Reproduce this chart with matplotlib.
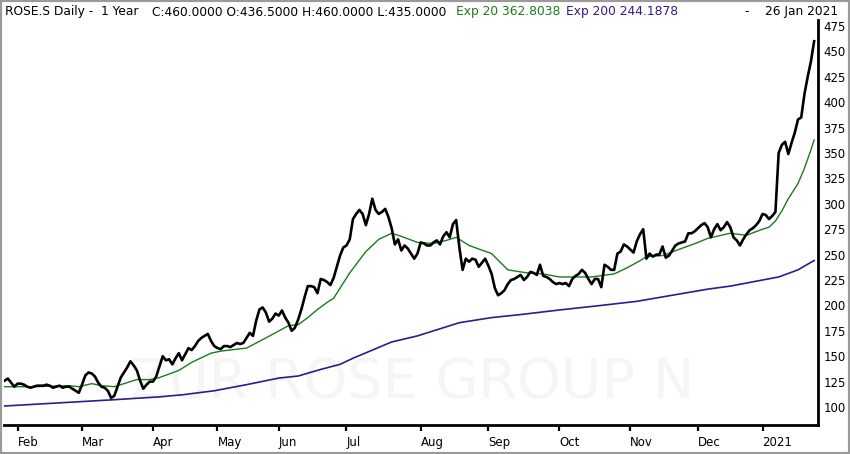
import numpy as np
import pandas as pd
import matplotlib
matplotlib.use("Agg")
import matplotlib.pyplot as plt
from matplotlib.patches import Rectangle

# trading days (SIX calendar), 28 Jan 2020 .. 26 Jan 2021
holidays = ["2020-04-10", "2020-04-13", "2020-05-01", "2020-05-21", "2020-06-01",
            "2020-12-24", "2020-12-25", "2020-12-31", "2021-01-01"]
days = pd.bdate_range("2020-01-28", "2021-01-26")
days = days[~days.isin(pd.to_datetime(holidays))]

# daily close
close = [
    126, 128, 124, 120, 123, 123, 122, 120, 119, 120,
    121, 121, 121, 122, 121, 119, 120, 121, 119, 120,
    120, 118, 116, 114, 122, 131, 134, 133, 130, 124,
    120, 119, 116, 109, 111, 120, 129, 134, 139, 145,
    141, 136, 126, 118, 122, 125, 125, 130, 140, 150,
    146, 147, 142, 148, 153, 146, 152, 158, 156, 160,
    165, 168, 170, 172, 165, 160, 158, 157, 160, 160,
    159, 161, 163, 162, 163, 168, 173, 170, 185, 196,
    198, 193, 184, 187, 192, 190, 195, 188, 183, 175,
    178, 186, 196, 208, 219, 219, 218, 212, 226, 225,
    223, 220, 227, 238, 249, 257, 259, 265, 285, 290,
    294, 290, 279, 290, 305, 294, 290, 292, 295, 287,
    276, 260, 265, 254, 259, 256, 251, 246, 251, 262,
    261, 259, 259, 262, 264, 260, 268, 272, 267, 280,
    284, 257, 235, 246, 243, 246, 245, 238, 242, 246,
    239, 231, 217, 210, 212, 215, 221, 225, 226, 228,
    230, 225, 228, 233, 232, 230, 240, 229, 228, 226,
    223, 221, 222, 221, 222, 219, 226, 229, 231, 235,
    232, 226, 221, 226, 226, 218, 240, 238, 235, 235,
    251, 253, 260, 258, 255, 252, 263, 270, 275, 246,
    251, 248, 250, 250, 258, 247, 249, 254, 259, 261,
    262, 263, 271, 271, 273, 276, 279, 281, 277, 267,
    275, 280, 274, 277, 282, 277, 267, 264, 259, 265,
    270, 274, 276, 279, 283, 290, 289, 285, 288, 292,
    350, 358, 361, 349, 360, 370, 383, 385, 408, 425,
    440, 460,
]

# Exp 20, read at selected trading days
ema20_day = [0, 9, 20, 23, 27, 30, 34, 38, 41, 45, 48, 54, 55, 58, 64, 67, 75, 81, 88,
             91, 94, 97, 100, 102, 107, 112, 116, 120, 123, 128, 133, 137, 140, 144,
             151, 156, 162, 167, 172, 178, 182, 189, 193, 197, 199, 204, 209, 215,
             218, 225, 230, 235, 237, 239, 241, 243, 246, 248, 250, 251]
ema20_val = [120, 120, 121, 120, 123, 121, 120, 124, 127, 127, 129, 136, 138, 144, 153,
             155, 158, 168, 180, 181, 188, 196, 203, 207, 232, 253, 265, 271, 268, 262,
             261, 264, 267, 259, 251, 235, 232, 231, 228, 228, 228, 231, 237, 244, 248,
             249, 255, 262, 266, 271, 269, 275, 277, 283, 293, 305, 320, 335, 353, 362.8]

# Exp 200, read at selected trading days
ema200_day = [0, 33, 48, 55, 65, 75, 85, 91, 98, 104, 108, 114, 120, 128, 135, 141, 151,
              160, 172, 185, 196, 218, 225, 235, 240, 246, 251]
ema200_val = [101, 107, 110, 112, 116, 122, 128.5, 130.5, 137, 142, 148, 156, 164, 170,
              177, 183, 188, 191, 195.5, 200, 204, 216, 219, 225, 228, 235, 244.2]

yticks = list(range(100, 476, 25))

green = "#1d7a1d"
navy = "#33198c"

fig = plt.figure(figsize=(8.5, 4.54), dpi=100)
W, H = 850, 454
ax = fig.add_axes([4 / W, 1 - 425 / H, (818 - 4) / W, (425 - 20) / H])

x = np.arange(len(days))
ax.plot(ema200_day, ema200_val, color=navy, lw=1.2, zorder=3)
ax.plot(ema20_day, ema20_val, color=green, lw=1.0, zorder=4)
ax.plot(x, close, color="black", lw=1.9, zorder=5)

# faint watermark, under the lines
ax.text(412 / W, 56 / H, "ZUR ROSE GROUP N", transform=fig.transFigure, fontsize=40,
        color="#f5f5f5", ha="center", va="baseline", zorder=1)

ax.set_xlim(-0.2, 252.2)
ax.set_ylim(82.3, 480.9)

# month ticks at first trading day of each month
months = days.to_period("M")
starts = [i for i in range(1, len(days)) if months[i] != months[i - 1]]
labels = ["2021" if days[i].year == 2021 else days[i].strftime("%b") for i in starts]
ax.set_xticks(starts)
ax.set_xticklabels(labels)
for lab in ax.get_xticklabels():
    lab.set_horizontalalignment("left")
ax.tick_params(axis="x", direction="out", length=4, width=1.6, pad=4, labelsize=8.5,
               colors="black")

ax.yaxis.tick_right()
ax.set_yticks(yticks)
ax.tick_params(axis="y", length=0, pad=4, labelsize=8.5)

for s in ["left", "top"]:
    ax.spines[s].set_visible(False)
for s in ["right", "bottom"]:
    ax.spines[s].set_linewidth(2.0)
    ax.spines[s].set_color("black")

# header line
hy = 1 - 12 / H
fs = 8.8
fig.text(5 / W, hy, "ROSE.S Daily -  1 Year", fontsize=fs, va="center", ha="left")
fig.text(152 / W, hy, "C:460.0000 O:436.5000 H:460.0000 L:435.0000",
         fontsize=fs, va="center", ha="left")
fig.text(456 / W, hy, "Exp 20 362.8038", fontsize=fs, va="center", ha="left", color=green)
fig.text(566 / W, hy, "Exp 200 244.1878", fontsize=fs, va="center", ha="left", color=navy)
fig.text(838 / W, hy, "-    26 Jan 2021", fontsize=fs, va="center", ha="right")

# window frame
fig.patches.append(Rectangle((0, 0), 1, 1, transform=fig.transFigure, fill=False,
                             edgecolor="#9a9a9a", lw=3))

fig.savefig("out.png", dpi=100)
